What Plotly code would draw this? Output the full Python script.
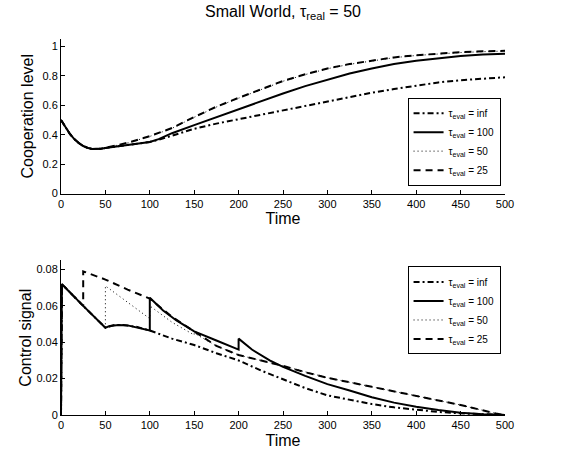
import plotly.graph_objects as go
from plotly.subplots import make_subplots

# ---- Cooperation level (top panel) ----
coop_t_inf = [0, 5, 10, 15, 20, 25, 30, 35, 40, 45, 50, 60, 75, 90, 100, 110, 125, 150, 175, 200,
              225, 250, 275, 300, 325, 350, 375, 400, 425, 450, 475, 500]
coop_inf = [0.50, 0.45, 0.405, 0.37, 0.343, 0.323, 0.31, 0.303, 0.302, 0.305, 0.31, 0.318, 0.327, 0.34,
            0.35, 0.365, 0.395, 0.44, 0.475, 0.505, 0.535, 0.565, 0.595, 0.625, 0.655, 0.685, 0.71,
            0.735, 0.755, 0.77, 0.782, 0.79]

coop_t_100 = [0, 5, 10, 15, 20, 25, 30, 35, 40, 45, 50, 60, 75, 90, 100, 110, 125, 150, 175, 200,
              225, 250, 275, 300, 325, 350, 375, 400, 425, 450, 475, 500]
coop_100 = [0.50, 0.45, 0.405, 0.37, 0.343, 0.323, 0.31, 0.303, 0.302, 0.305, 0.31, 0.318, 0.327, 0.34,
            0.35, 0.37, 0.41, 0.465, 0.52, 0.57, 0.625, 0.68, 0.73, 0.775, 0.815, 0.85, 0.88, 0.902,
            0.92, 0.934, 0.944, 0.95]

coop_t_50 = [0, 5, 10, 15, 20, 25, 30, 35, 40, 45, 50, 60, 75, 100, 125, 150, 175, 200, 225, 250,
             275, 300, 325, 350, 375, 400, 425, 450, 475, 500]
coop_50 = [0.50, 0.45, 0.405, 0.37, 0.343, 0.323, 0.31, 0.303, 0.302, 0.305, 0.31, 0.324, 0.344,
           0.388, 0.443, 0.518, 0.588, 0.648, 0.708, 0.763, 0.808, 0.848, 0.878, 0.903, 0.923, 0.938,
           0.95, 0.958, 0.964, 0.968]

coop_t_25 = [0, 5, 10, 15, 20, 25, 30, 35, 40, 45, 50, 60, 75, 100, 125, 150, 175, 200, 225, 250,
             275, 300, 325, 350, 375, 400, 425, 450, 475, 500]
coop_25 = [0.50, 0.45, 0.405, 0.37, 0.343, 0.323, 0.31, 0.303, 0.302, 0.305, 0.31, 0.325, 0.345,
           0.39, 0.445, 0.52, 0.59, 0.65, 0.71, 0.765, 0.81, 0.85, 0.88, 0.905, 0.925, 0.94, 0.952,
           0.96, 0.966, 0.97]

# ---- Control signal (bottom panel) ----
ctrl_t_inf = [0, 1, 25, 50, 60, 70, 85, 100, 125, 150, 175, 200, 225, 250, 275, 300, 325, 350, 375,
              400, 425, 450, 475, 500]
ctrl_inf = [0.0, 0.072, 0.060, 0.048, 0.0495, 0.0495, 0.0485, 0.0465, 0.042, 0.0385, 0.034, 0.030,
            0.0245, 0.0195, 0.0148, 0.0108, 0.0082, 0.006, 0.0042, 0.0028, 0.0017, 0.0009, 0.0003, 0.0]

ctrl_t_100 = [0, 1, 25, 50, 55, 65, 75, 90, 100, 100, 115, 130, 150, 175, 200, 200, 215, 235, 250,
              275, 300, 325, 350, 375, 400, 425, 450, 475, 500]
ctrl_100 = [0.0, 0.072, 0.060, 0.048, 0.049, 0.0495, 0.0493, 0.0478, 0.0465, 0.0645, 0.0575, 0.052,
            0.046, 0.041, 0.036, 0.042, 0.036, 0.030, 0.0265, 0.0215, 0.017, 0.0135, 0.0098, 0.0068,
            0.0045, 0.0027, 0.0013, 0.0004, 0.0]

ctrl_t_50 = [0, 1, 25, 50, 50, 75, 100, 100, 125, 150, 150, 175, 200, 250, 300, 350, 400, 450, 490, 500]
ctrl_50 = [0.0, 0.072, 0.060, 0.048, 0.071, 0.062, 0.053, 0.060, 0.051, 0.044, 0.045, 0.038, 0.033,
           0.027, 0.0205, 0.0155, 0.0105, 0.0055, 0.0008, 0.0]

ctrl_t_25 = [0, 1, 25, 25, 50, 75, 100, 125, 150, 175, 200, 225, 250, 275, 300, 350, 400, 450, 490, 500]
ctrl_25 = [0.0, 0.072, 0.060, 0.079, 0.0745, 0.069, 0.064, 0.054, 0.046, 0.038, 0.033, 0.030, 0.027,
           0.0235, 0.0205, 0.0155, 0.0105, 0.0055, 0.0008, 0.0]

x_ticks = [0, 50, 100, 150, 200, 250, 300, 350, 400, 450, 500]
coop_ticks = [0, 0.2, 0.4, 0.6, 0.8, 1]
coop_tick_text = ["0", "0.2", "0.4", "0.6", "0.8", "1"]
ctrl_ticks = [0, 0.02, 0.04, 0.06, 0.08]
ctrl_tick_text = ["0", "0.02", "0.04", "0.06", "0.08"]

names = ["τ<sub>eval</sub> = inf", "τ<sub>eval</sub> = 100", "τ<sub>eval</sub> = 50", "τ<sub>eval</sub> = 25"]
styles = [
    dict(color="black", width=2, dash="6px,3px,2px,3px"),
    dict(color="black", width=2, dash="solid"),
    dict(color="black", width=1, dash="1px,3px"),
    dict(color="black", width=2, dash="7px,5px"),
]

fig = make_subplots(rows=2, cols=1, vertical_spacing=0.178)

top_series = [(coop_t_inf, coop_inf), (coop_t_100, coop_100), (coop_t_50, coop_50), (coop_t_25, coop_25)]
bot_series = [(ctrl_t_inf, ctrl_inf), (ctrl_t_100, ctrl_100), (ctrl_t_50, ctrl_50), (ctrl_t_25, ctrl_25)]

for (tx, ty), name, st in zip(top_series, names, styles):
    fig.add_trace(go.Scatter(x=tx, y=ty, mode="lines", name=name, line=st,
                             legend="legend"), row=1, col=1)
for (tx, ty), name, st in zip(bot_series, names, styles):
    fig.add_trace(go.Scatter(x=tx, y=ty, mode="lines", name=name, line=st,
                             legend="legend2"), row=2, col=1)

font_family = "Liberation Sans, Arial, Helvetica, sans-serif"
axis_common = dict(showline=True, linecolor="black", linewidth=1, ticks="inside", ticklen=4,
                   tickcolor="black", showgrid=False, zeroline=False, mirror=False, automargin=False,
                   tickfont=dict(size=11, color="black", family=font_family))

fig.update_xaxes(range=[0, 500], tickvals=x_ticks, **axis_common,
                 title=dict(text="Time", font=dict(size=16, color="black", family=font_family), standoff=4))
fig.update_yaxes(**axis_common)
fig.update_yaxes(range=[0, 1.05], tickvals=coop_ticks, ticktext=coop_tick_text, row=1, col=1,
                 title=dict(text="Cooperation level", font=dict(size=16, color="black", family=font_family),
                            standoff=4))
fig.update_yaxes(range=[0, 0.085], tickvals=ctrl_ticks, ticktext=ctrl_tick_text, row=2, col=1,
                 title=dict(text="Control signal", font=dict(size=16, color="black", family=font_family),
                            standoff=0))

legend_common = dict(bgcolor="white", bordercolor="black", borderwidth=1,
                     font=dict(size=10, color="black", family=font_family),
                     xanchor="right", tracegroupgap=0, itemwidth=30)

fig.update_layout(
    width=562, height=452,
    margin=dict(l=61, r=57, t=39, b=37, autoexpand=False),
    paper_bgcolor="white", plot_bgcolor="white",
    font=dict(family=font_family, color="black"),
    title=dict(text="Small World, τ<sub>real</sub> = 50", x=0.5, xref="paper", xanchor="center",
               y=0.975, yanchor="middle", font=dict(size=16, color="black", family=font_family)),
    legend=dict(x=0.99, y=0.61, yanchor="bottom", **legend_common),
    legend2=dict(x=0.99, y=0.395, yanchor="top", **legend_common),
    showlegend=True,
)

fig.write_html("out.html")
